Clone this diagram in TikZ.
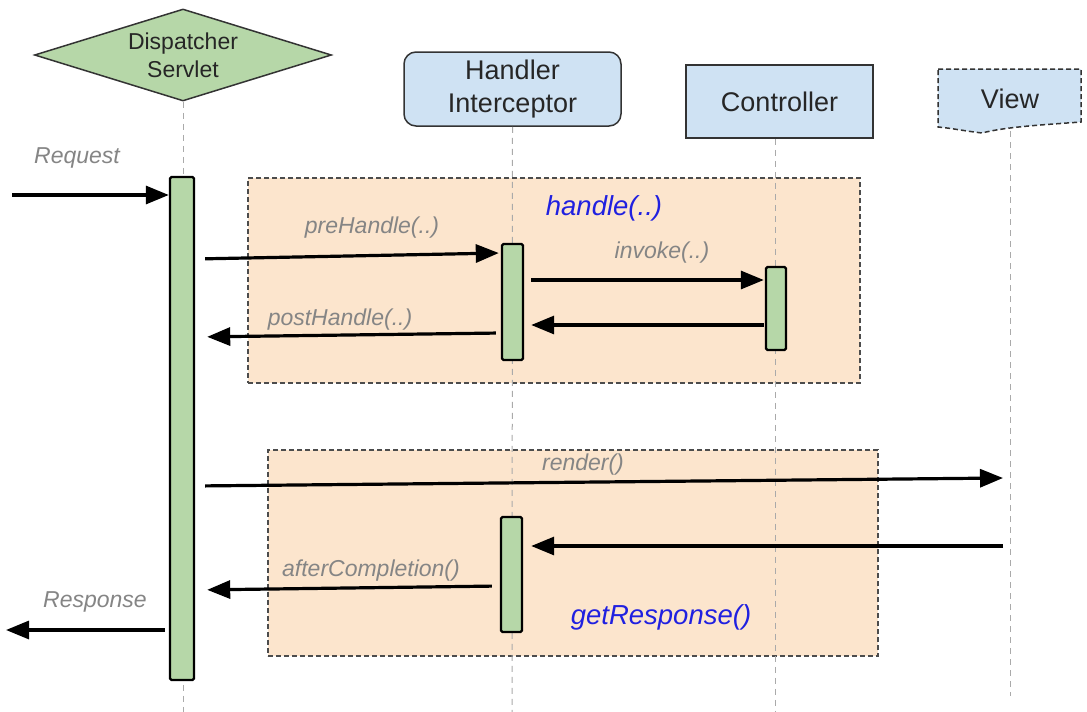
\documentclass[tikz,border=0pt]{standalone}
\usepackage{fontspec}
\setmainfont{Liberation Sans}
\usetikzlibrary{arrows.meta,shapes.geometric}
\definecolor{dsgreen}{HTML}{B6D7A8}
\definecolor{hblue}{HTML}{CFE2F3}
\definecolor{peach}{HTML}{FCE5CD}
\definecolor{lblgray}{HTML}{858585}
\definecolor{bluetxt}{HTML}{2020E0}
\definecolor{lifegray}{HTML}{AAAAAA}
\begin{document}
\begin{tikzpicture}[x=1pt,y=-1pt,
  life/.style={draw=lifegray, line width=1pt, dash pattern=on 6pt off 5pt},
  actbar/.style={draw=black, fill=dsgreen, line width=2.4pt, rounded corners=1.5pt, inner sep=0pt},
  msg/.style={line width=3.2pt, -{Triangle[length=23pt,width=18pt]}},
  lbl/.style={font=\fontsize{23}{26}\selectfont\itshape, text=lblgray, inner sep=0pt},
  bluelbl/.style={font=\fontsize{27.5}{30}\selectfont\itshape, text=bluetxt, inner sep=0pt},
  grp/.style={draw=black!70, fill=peach, line width=1.3pt, dash pattern=on 5pt off 3pt},
  hdr/.style={font=\fontsize{27}{33}\selectfont, text=black!85, align=center, inner sep=0pt},
  hbox/.style={draw=black!80, fill=hblue, line width=1.5pt}
]
\useasboundingbox (0,0) rectangle (1087,712);
\fill[white] (0,0) rectangle (1087,712);

% group boxes
\node[grp, minimum width=612pt, minimum height=205pt, inner sep=0pt] (g1) at (554,280.5) {};
\node[grp, minimum width=610pt, minimum height=206pt, inner sep=0pt] (g2) at (573,553) {};

% participants
\node[diamond, draw=black!80, fill=dsgreen, line width=1.5pt, minimum width=297pt, minimum height=92pt, inner sep=0pt, aspect=3.2] (ds) at (183,55) {};
\node[font=\fontsize{23}{28}\selectfont, text=black!85, align=center, inner sep=0pt] (dst) at (ds.center) {Dispatcher\\Servlet};

\node[hbox, hdr, rounded corners=12pt, minimum width=217pt, minimum height=74pt] (hi) at (512.5,89) {Handler\\Interceptor};
\node[hbox, hdr, minimum width=187pt, minimum height=73pt] (ctl) at (779.5,101.5) {Controller};

\draw[hbox, dash pattern=on 5pt off 3pt] (938,69) -- (1081,69) -- (1081,122)
  .. controls (1040,125) and (1005,127) .. (982,133)
  .. controls (965,131) and (950,128) .. (938,127) -- cycle;
\node[hdr] (view) at (1010,99) {View};

% lifeline ends
\coordinate (dsend) at (183,712);
\coordinate (hiend) at (512,712);
\coordinate (ctlend) at (775,712);
\coordinate (viewtop) at (1010,131);
\coordinate (viewend) at (1010,696);

\draw[life] (ds.south) -- (dsend);
\draw[life] (hi.south) -- (hiend);
\draw[life] (ctl.south -| ctlend) -- (ctlend);
\draw[life] (viewtop) -- (viewend);

% activation bars
\node[actbar, minimum width=24pt, minimum height=503pt] (dsa) at (182,428.5) {};
\node[actbar, minimum width=21pt, minimum height=116pt] (hia) at (512.5,302) {};
\node[actbar, minimum width=20pt, minimum height=83pt] (cta) at (776,308.5) {};
\node[actbar, minimum width=21pt, minimum height=115pt] (hib) at (511.5,574.5) {};

% free ends
\coordinate (req) at (12,195);
\coordinate (resp) at (6,630);
\coordinate (vr) at (1003,478);
\coordinate (vg) at (1003,546);

% messages
\draw[msg] (req) -- (req -| dsa.west);
\draw[msg, shorten <=10pt, shorten >=2pt] (dsa.east |- 0,259) -- (hia.west |- 0,253);
\draw[msg, shorten <=7pt, shorten >=1pt] (hia.east |- 0,280) -- (cta.west |- 0,280);
\draw[msg, shorten <=1pt, shorten >=7pt] (cta.west |- 0,325) -- (hia.east |- 0,325);
\draw[msg, shorten <=5pt, shorten >=12pt] (hia.west |- 0,333) -- (dsa.east |- 0,337);
\draw[msg, shorten <=10pt] (dsa.east |- 0,486) -- (vr);
\draw[msg, shorten >=8pt] (vg) -- (vg -| hib.east);
\draw[msg, shorten <=8pt, shorten >=12pt] (hib.west |- 0,586) -- (dsa.east |- 0,590);
\draw[msg, shorten <=4pt] (dsa.west |- resp) -- (resp);

% labels
\node[lbl] (lreq) at (77,158) {Request};
\node[lbl] (lpre) at (372,228) {preHandle(..)};
\node[lbl] (linv) at (662,253) {invoke(..)};
\node[lbl] (lpost) at (340,320) {postHandle(..)};
\node[lbl] (lrender) at (583,465) {render()};
\node[lbl] (lafter) at (371,571) {afterCompletion()};
\node[lbl] (lresp) at (95,602) {Response};
\node[bluelbl] (lhandle) at (604,208) {handle(..)};
\node[bluelbl] (lget) at (661,617) {getResponse()};
\end{tikzpicture}
\end{document}
